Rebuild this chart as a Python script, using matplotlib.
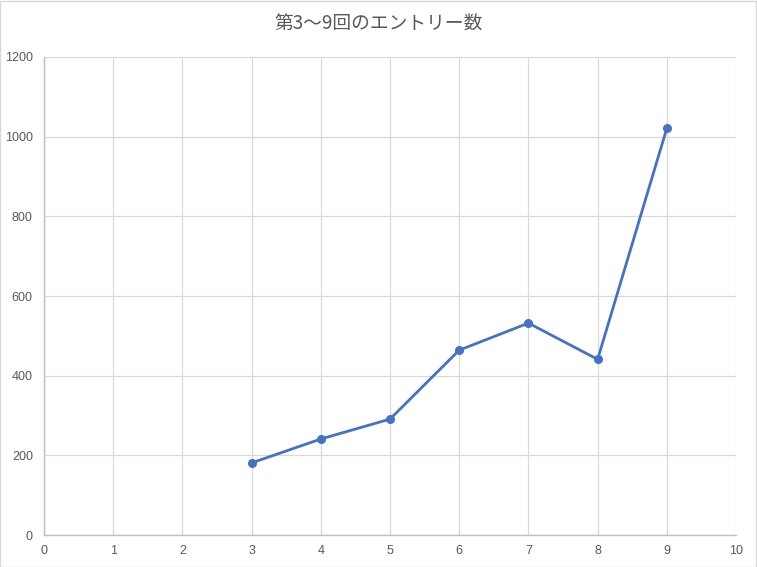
import matplotlib
matplotlib.use("Agg")
import matplotlib.pyplot as plt
from matplotlib.patches import Rectangle

plt.rcParams['font.family'] = ['Noto Sans CJK JP', 'DejaVu Sans']

title = "第3〜9回のエントリー数"
rounds = [3, 4, 5, 6, 7, 8, 9]
entries = [181, 241, 291, 464, 532, 441, 1021]
x_ticks = list(range(0, 11))
y_ticks = [0, 200, 400, 600, 800, 1000, 1200]

text_color = "#595959"
grid_color = "#d9d9d9"
line_color = "#4472C4"

fig = plt.figure(figsize=(7.57, 5.67), dpi=100)
fig.patch.set_facecolor("white")
fig.patches.append(Rectangle((0.0005, 0.0008), 0.998, 0.998, transform=fig.transFigure,
                             fill=False, edgecolor="#d9d9d9", linewidth=1.0))

ax = fig.add_axes([0.0581, 0.0564, 0.9142, 0.8431])
ax.plot(rounds, entries, color=line_color, linewidth=2.0, marker="o",
        markersize=5.5, markerfacecolor=line_color, markeredgecolor=line_color,
        zorder=3, clip_on=False)

ax.set_xlim(0, 10)
ax.set_ylim(0, 1200)
ax.set_xticks(x_ticks)
ax.set_yticks(y_ticks)
ax.grid(True, color=grid_color, linewidth=0.9)
ax.set_axisbelow(True)

for side in ["top", "right"]:
    ax.spines[side].set_visible(False)
for side in ["left", "bottom"]:
    ax.spines[side].set_color("#bfbfbf")
    ax.spines[side].set_linewidth(1.0)

ax.tick_params(axis="both", length=0, labelsize=9, labelcolor=text_color)
ax.tick_params(axis="x", pad=7)
ax.tick_params(axis="y", pad=8)
for lbl in ax.get_xticklabels() + ax.get_yticklabels():
    lbl.set_family(['Calibri', 'Liberation Sans', 'DejaVu Sans'])

fig.text(0.5, 0.957, title, ha="center", va="center", fontsize=13.5, color=text_color)

fig.savefig("out.png", dpi=100)
